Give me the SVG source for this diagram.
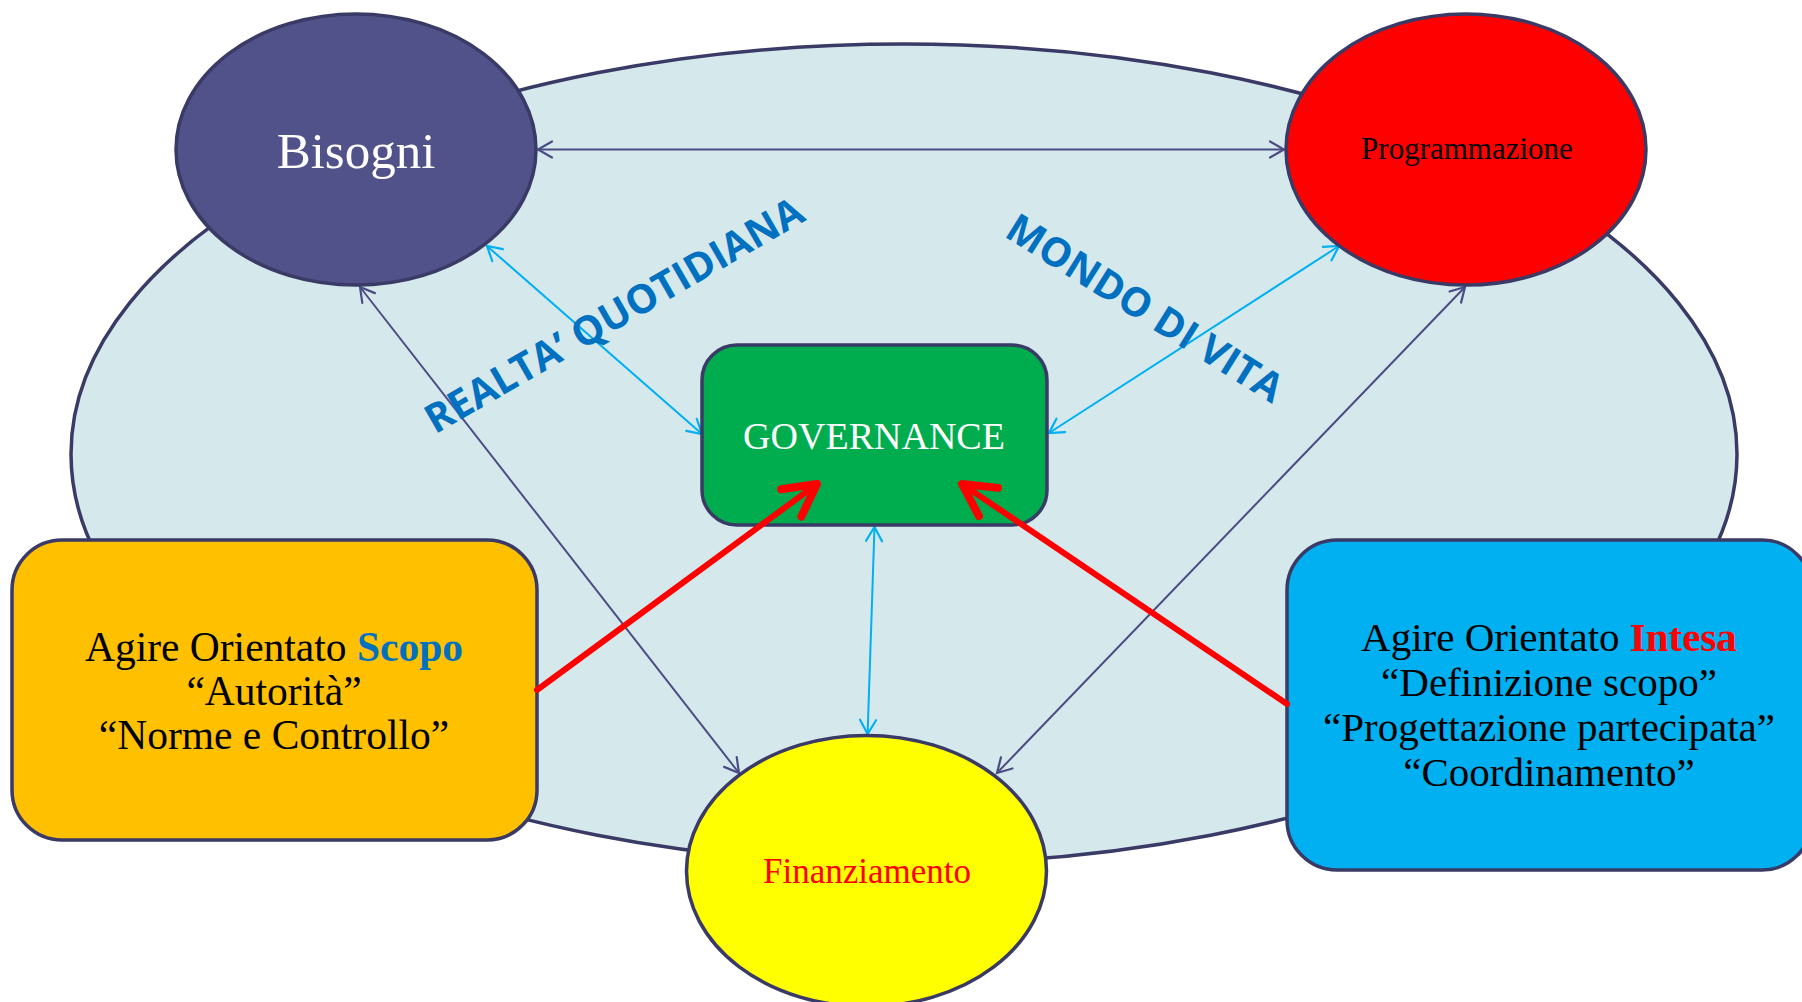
<svg xmlns="http://www.w3.org/2000/svg" width="1802" height="1002" viewBox="0 0 1802 1002">
<style>
.node{stroke:#3A3A66;stroke-width:3.5}
.serif{font-family:"Liberation Serif","Times New Roman",serif}
.lbl{font-family:"Open Sans","DejaVu Sans",sans-serif;font-weight:bold;fill:#0070C0;font-size:40px}
.nv{stroke:#4C4C84;stroke-width:2;fill:none}
.cy{stroke:#00B0F0;stroke-width:2;fill:none}
.rd{stroke:#FF0000;stroke-width:6;fill:none;stroke-linecap:round}
</style>
<defs>
<marker id="aN" markerUnits="userSpaceOnUse" markerWidth="20" markerHeight="20" viewBox="-16 -10 20 20" refX="0" refY="0" orient="auto-start-reverse"><path d="M-14,-8 L0,0 L-14,8" fill="none" stroke="#4C4C84" stroke-width="2.2" stroke-linecap="round"/></marker>
<marker id="aC" markerUnits="userSpaceOnUse" markerWidth="20" markerHeight="20" viewBox="-16 -10 20 20" refX="0" refY="0" orient="auto-start-reverse"><path d="M-14,-8 L0,0 L-14,8" fill="none" stroke="#00B0F0" stroke-width="2.2" stroke-linecap="round"/></marker>
<marker id="aR" markerUnits="userSpaceOnUse" markerWidth="50" markerHeight="50" viewBox="-40 -25 45 50" refX="0" refY="0" orient="auto"><path d="M-32,-17 L0,0 L-32,17" fill="none" stroke="#FF0000" stroke-width="8" stroke-linecap="round" stroke-linejoin="round"/></marker>
</defs>
<rect width="1802" height="1002" fill="#FFFFFF"/>
<g id="world"><ellipse cx="904" cy="454" rx="833" ry="410" fill="#D5E8EB" stroke="#3A3A66" stroke-width="3.5"/></g>
<g id="connectors">
<line class="nv" x1="538" y1="149.5" x2="1284" y2="149.5" marker-start="url(#aN)" marker-end="url(#aN)"/>
<line class="cy" x1="487" y1="246" x2="702" y2="434" marker-start="url(#aC)" marker-end="url(#aC)"/>
<line class="cy" x1="1339" y1="246" x2="1049" y2="433" marker-start="url(#aC)" marker-end="url(#aC)"/>
<line class="nv" x1="360" y1="287" x2="739" y2="773" marker-start="url(#aN)" marker-end="url(#aN)"/>
<line class="nv" x1="1465" y1="287" x2="997" y2="773" marker-start="url(#aN)" marker-end="url(#aN)"/>
<line class="cy" x1="874.5" y1="527" x2="867.6" y2="734" marker-start="url(#aC)" marker-end="url(#aC)"/>
</g>
<g id="bisogni"><ellipse class="node" cx="356" cy="149.5" rx="180" ry="135.6" fill="#52528A"/><text class="serif" x="356" y="168" font-size="51" fill="#FFFFFF" text-anchor="middle">Bisogni</text></g>
<g id="programmazione"><ellipse class="node" cx="1466" cy="149.5" rx="180" ry="135.6" fill="#FF0000"/><text class="serif" x="1467" y="159" font-size="31" fill="#000000" text-anchor="middle">Programmazione</text></g>
<g id="governance"><rect class="node" x="702" y="345" width="345" height="180" rx="35" fill="#00AD4E"/><text class="serif" x="874" y="449" font-size="38" fill="#FFFFFF" text-anchor="middle">GOVERNANCE</text></g>
<g id="finanziamento"><ellipse class="node" cx="866.5" cy="871" rx="180" ry="135.6" fill="#FFFF00"/><text class="serif" x="867" y="883" font-size="35" fill="#FF0000" text-anchor="middle">Finanziamento</text></g>
<g id="scopo"><rect class="node" x="12" y="540" width="525" height="300" rx="50" fill="#FFC000"/>
<text class="serif" font-size="41.5" fill="#000000" text-anchor="middle"><tspan x="274" y="661">Agire Orientato <tspan font-weight="bold" fill="#0070C0">Scopo</tspan></tspan><tspan x="274" y="705">“Autorità”</tspan><tspan x="274" y="749">“Norme e Controllo”</tspan></text></g>
<g id="intesa"><rect class="node" x="1287" y="540" width="525" height="330" rx="50" fill="#00B0F0"/>
<text class="serif" font-size="41" fill="#000000" text-anchor="middle"><tspan x="1549" y="651">Agire Orientato <tspan font-weight="bold" fill="#FF0000">Intesa</tspan></tspan><tspan x="1549" y="696">“Definizione scopo”</tspan><tspan x="1549" y="741">“Progettazione partecipata”</tspan><tspan x="1549" y="786">“Coordinamento”</tspan></text></g>
<g id="labels">
<text class="lbl" transform="translate(614,315) rotate(-30)" x="0" y="14" text-anchor="middle">REALTA’ QUOTIDIANA</text>
<text class="lbl" transform="translate(1145,308) rotate(32)" x="0" y="14" text-anchor="middle">MONDO DI VITA</text>
</g>
<g id="red-arrows">
<line class="rd" x1="537" y1="690" x2="817" y2="484" marker-end="url(#aR)"/>
<line class="rd" x1="1287" y1="704" x2="962" y2="484" marker-end="url(#aR)"/>
</g>
</svg>
